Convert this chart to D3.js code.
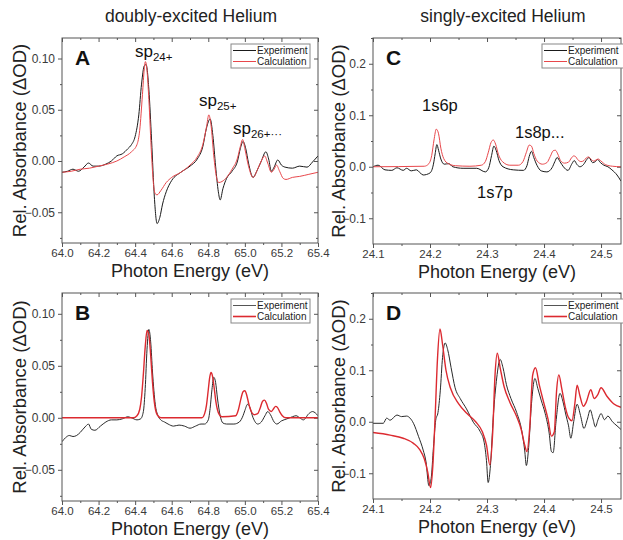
<!DOCTYPE html>
<html><head><meta charset="utf-8">
<script src="https://cdn.jsdelivr.net/npm/d3@7"></script>
<style>
body{margin:0;background:#fff;}
svg{display:block;font-family:"Liberation Sans",Arial,sans-serif;}
</style></head>
<body><svg id="chart" width="623" height="540"></svg>
<script>
// ---------- DATA ----------
const energyTicksHigh = [64.0,64.2,64.4,64.6,64.8,65.0,65.2,65.4];
const energyTicksLow = [24.1,24.2,24.3,24.4,24.5];
const odTicksSmall = [-0.05,0.00,0.05,0.10];
const odTicksLarge = [-0.1,0.0,0.1,0.2];
const seriesNames = ["Experiment","Calculation"];
const columnTitles = ["doubly-excited Helium","singly-excited Helium"];

// Panel A
const aExpX = [64.00,64.03,64.06,64.09,64.12,64.145,64.17,64.20,64.24,64.27,64.30,64.33,64.36,64.38,64.40,64.42,64.435,64.45,64.46,64.475,64.49,64.505,64.52,64.535,64.55,64.57,64.60,64.65,64.70,64.74,64.77,64.79,64.81,64.825,64.84,64.855,64.865,64.88,64.90,64.93,64.96,64.975,64.99,65.005,65.02,65.045,65.065,65.09,65.115,65.13,65.145,65.16,65.18,65.20,65.22,65.26,65.30,65.34,65.37,65.40];
const aExpY = [-0.011,-0.010,-0.008,-0.010,-0.006,-0.002,-0.005,-0.005,-0.003,0.000,0.005,0.007,0.012,0.016,0.024,0.045,0.075,0.093,0.094,0.070,0.020,-0.035,-0.061,-0.055,-0.042,-0.030,-0.019,-0.011,-0.005,0.002,0.014,0.032,0.041,0.025,-0.005,-0.030,-0.038,-0.027,-0.017,-0.010,0.000,0.012,0.019,0.012,-0.002,-0.016,-0.010,0.000,0.009,0.002,-0.010,-0.006,0.001,-0.004,-0.006,-0.007,-0.005,-0.006,-0.001,0.005];
const aCalcX = [64.00,64.05,64.10,64.15,64.20,64.25,64.30,64.34,64.38,64.41,64.425,64.44,64.45,64.456,64.465,64.475,64.49,64.50,64.51,64.52,64.54,64.57,64.60,64.65,64.70,64.74,64.77,64.79,64.803,64.815,64.83,64.845,64.857,64.875,64.90,64.93,64.96,64.975,64.988,65.00,65.02,65.045,65.07,65.09,65.108,65.125,65.145,65.16,65.173,65.19,65.21,65.225,65.26,65.30,65.35,65.40];
const aCalcY = [-0.011,-0.010,-0.008,-0.007,-0.005,-0.003,0.000,0.004,0.009,0.016,0.030,0.065,0.090,0.097,0.088,0.060,0.005,-0.022,-0.032,-0.033,-0.029,-0.021,-0.016,-0.011,-0.004,0.004,0.016,0.033,0.045,0.035,0.005,-0.016,-0.021,-0.020,-0.016,-0.008,0.003,0.014,0.021,0.012,-0.005,-0.016,-0.008,0.000,0.005,-0.002,-0.011,-0.008,-0.004,-0.010,-0.017,-0.018,-0.016,-0.015,-0.013,-0.011];

// Panel B
const bExpX = [64.00,64.02,64.04,64.06,64.08,64.10,64.13,64.145,64.16,64.18,64.21,64.24,64.27,64.30,64.33,64.36,64.38,64.41,64.43,64.445,64.455,64.465,64.475,64.485,64.495,64.51,64.525,64.54,64.56,64.58,64.61,64.64,64.67,64.70,64.73,64.76,64.78,64.80,64.81,64.82,64.83,64.84,64.85,64.865,64.88,64.90,64.94,64.97,64.99,65.00,65.015,65.025,65.045,65.07,65.09,65.11,65.125,65.14,65.16,65.175,65.20,65.23,65.26,65.28,65.30,65.32,65.35,65.37,65.40];
const bExpY = [-0.023,-0.019,-0.017,-0.018,-0.017,-0.014,-0.008,-0.006,-0.011,-0.012,-0.008,-0.004,-0.002,-0.002,-0.001,0.001,0.000,-0.002,-0.001,0.006,0.028,0.066,0.085,0.073,0.044,0.013,0.002,-0.002,-0.004,-0.006,-0.008,-0.007,-0.008,-0.010,-0.008,-0.006,-0.006,-0.002,0.009,0.027,0.039,0.034,0.019,0.002,-0.005,-0.006,-0.006,-0.004,0.002,0.007,0.013,0.011,0.000,-0.006,-0.004,0.002,0.006,0.003,-0.004,-0.006,-0.003,-0.001,0.001,0.002,0.000,-0.002,0.004,0.006,0.002];
const bCalcX = [64.00,64.39,64.41,64.425,64.435,64.445,64.455,64.465,64.475,64.485,64.495,64.505,64.52,64.54,64.765,64.78,64.79,64.80,64.808,64.815,64.823,64.832,64.842,64.855,64.875,64.95,64.965,64.978,64.99,65.00,65.01,65.022,65.035,65.05,65.07,65.085,65.097,65.108,65.118,65.13,65.145,65.158,65.168,65.178,65.19,65.205,65.225,65.40];
const bCalcY = [0,0,0.002,0.008,0.020,0.042,0.068,0.084,0.080,0.060,0.034,0.015,0.003,0,0,0.004,0.012,0.027,0.039,0.0435,0.040,0.029,0.015,0.005,0.001,0.002,0.008,0.018,0.025,0.026,0.022,0.013,0.006,0.003,0.004,0.010,0.016,0.017,0.014,0.008,0.006,0.009,0.011,0.010,0.006,0.002,0,0];

// Panel C
const cExpX = [24.100,24.109,24.121,24.133,24.142,24.153,24.159,24.167,24.176,24.188,24.200,24.206,24.209,24.212,24.215,24.219,24.225,24.233,24.240,24.258,24.282,24.297,24.303,24.308,24.312,24.316,24.321,24.328,24.346,24.364,24.370,24.374,24.378,24.382,24.388,24.395,24.405,24.414,24.419,24.423,24.428,24.434,24.442,24.449,24.453,24.458,24.463,24.469,24.475,24.479,24.485,24.490,24.494,24.499,24.505,24.512,24.519,24.528,24.535];
const cExpY = [0.000,0.003,-0.006,-0.007,-0.002,-0.007,-0.003,-0.008,-0.006,-0.016,-0.012,0.005,0.025,0.043,0.032,0.015,0.005,0.006,0.000,-0.003,-0.003,-0.010,-0.002,0.022,0.040,0.032,0.012,0.000,-0.006,-0.007,0.002,0.020,0.030,0.018,0.002,-0.008,-0.010,-0.002,0.010,0.018,0.010,0.000,-0.007,0.006,0.012,0.004,0.000,0.004,0.014,0.018,0.008,0.010,0.014,0.008,0.003,0.000,-0.006,-0.016,-0.028];
const cCalcX = [24.100,24.190,24.198,24.203,24.207,24.211,24.215,24.219,24.224,24.232,24.245,24.270,24.290,24.297,24.302,24.307,24.311,24.315,24.320,24.327,24.340,24.355,24.363,24.369,24.374,24.378,24.382,24.388,24.397,24.405,24.411,24.416,24.420,24.424,24.429,24.436,24.443,24.448,24.452,24.455,24.459,24.465,24.470,24.474,24.478,24.482,24.487,24.491,24.495,24.500,24.508,24.520,24.535];
const cCalcY = [0,0.001,0.006,0.022,0.052,0.073,0.064,0.036,0.016,0.006,0.002,0.001,0.003,0.010,0.027,0.047,0.052,0.044,0.024,0.010,0.003,0.003,0.010,0.028,0.042,0.040,0.026,0.011,0.005,0.008,0.020,0.031,0.032,0.025,0.012,0.007,0.009,0.017,0.021,0.020,0.014,0.010,0.012,0.017,0.019,0.015,0.011,0.013,0.015,0.011,0.004,0.001,0];

// Panel D
const dExpX = [24.100,24.118,24.124,24.130,24.142,24.150,24.159,24.165,24.171,24.180,24.188,24.193,24.198,24.202,24.206,24.210,24.214,24.218,24.222,24.2265,24.231,24.237,24.244,24.253,24.264,24.276,24.288,24.295,24.299,24.302,24.306,24.311,24.317,24.323,24.328,24.334,24.342,24.352,24.361,24.366,24.369,24.373,24.378,24.384,24.389,24.395,24.402,24.409,24.413,24.416,24.421,24.428,24.433,24.438,24.443,24.447,24.452,24.458,24.464,24.470,24.476,24.481,24.486,24.490,24.495,24.500,24.506,24.512,24.520,24.528,24.535];
const dExpY = [-0.003,-0.003,0.007,0.003,0.013,0.010,0.011,0.007,-0.003,-0.029,-0.055,-0.078,-0.124,-0.110,-0.050,0.003,0.018,0.060,0.125,0.153,0.140,0.105,0.066,0.045,0.025,-0.001,-0.019,-0.040,-0.075,-0.118,-0.085,0.010,0.085,0.121,0.105,0.072,0.045,0.018,-0.018,-0.055,-0.085,-0.050,0.035,0.084,0.065,0.042,0.016,-0.022,-0.058,-0.060,0.000,0.055,0.040,0.015,-0.008,-0.032,0.000,0.034,0.012,-0.013,0.005,0.023,0.005,-0.010,0.005,0.016,0.004,0.011,0.000,-0.008,-0.015];
const dCalcX = [24.100,24.130,24.153,24.171,24.182,24.190,24.196,24.201,24.205,24.209,24.213,24.2175,24.222,24.228,24.236,24.25,24.265,24.280,24.292,24.299,24.305,24.310,24.314,24.318,24.323,24.330,24.340,24.352,24.360,24.366,24.370,24.375,24.380,24.385,24.392,24.400,24.407,24.413,24.418,24.422,24.426,24.431,24.437,24.443,24.449,24.454,24.458,24.463,24.469,24.474,24.482,24.488,24.494,24.500,24.510,24.522,24.535];
const dCalcY = [-0.021,-0.026,-0.032,-0.042,-0.054,-0.072,-0.098,-0.128,-0.085,0.010,0.120,0.180,0.150,0.100,0.065,0.035,0.016,0.000,-0.020,-0.045,-0.084,-0.020,0.090,0.133,0.105,0.068,0.038,0.010,-0.015,-0.045,-0.058,-0.010,0.090,0.105,0.070,0.035,0.005,-0.028,-0.020,0.060,0.091,0.065,0.030,0.008,0.002,0.035,0.071,0.050,0.030,0.038,0.062,0.045,0.052,0.066,0.050,0.035,0.028];

// ---------- LAYOUT ----------
const svg = d3.select("#chart");
const FONT = '"Liberation Sans",Arial,sans-serif';

const panels = [
  {letter:"A", box:[62,318,38,243], xDom:[64,65.4], yDom:[-0.08,0.12], xt:energyTicksHigh, yt:odTicksSmall, xf:".1f", yf:".2f",
   exp:[aExpX,aExpY], calc:[aCalcX,aCalcY], calcColor:"#e8474b", calcW:1, expColor:"#1a1a1a", expW:1, legBox:[231,310,44,68], thickLeg:false},
  {letter:"B", box:[62,318,293,501], xDom:[64,65.4], yDom:[-0.08,0.12], xt:energyTicksHigh, yt:odTicksSmall, xf:".1f", yf:".2f",
   exp:[bExpX,bExpY], calc:[bCalcX,bCalcY], calcColor:"#dc2a30", calcW:1.4, expColor:"#2a2a2a", expW:1, legBox:[231,310,299,323], thickLeg:true},
  {letter:"C", box:[373,621,38,244], xDom:[24.1,24.535], yDom:[-0.15,0.25], xt:energyTicksLow, yt:odTicksLarge, xf:".1f", yf:".1f",
   exp:[cExpX,cExpY], calc:[cCalcX,cCalcY], calcColor:"#e8474b", calcW:1, expColor:"#1a1a1a", expW:1, legBox:[542,624,44,68], thickLeg:false},
  {letter:"D", box:[373,621,293,499], xDom:[24.1,24.535], yDom:[-0.15,0.25], xt:energyTicksLow, yt:odTicksLarge, xf:".1f", yf:".1f",
   exp:[dExpX,dExpY], calc:[dCalcX,dCalcY], calcColor:"#dc2a30", calcW:1.4, expColor:"#2a2a2a", expW:1, legBox:[542,624,299,323], thickLeg:true}
];

svg.append("rect").attr("width",623).attr("height",540).attr("fill","#fff");

// column titles
svg.append("text").attr("x",191).attr("y",22).attr("text-anchor","middle").attr("font-size",17.5).attr("fill","#222").text(columnTitles[0]);
svg.append("text").attr("x",503).attr("y",22).attr("text-anchor","middle").attr("font-size",17.5).attr("fill","#222").text(columnTitles[1]);

panels.forEach((p,i)=>{
  const [l,r,t,b] = p.box;
  const x = d3.scaleLinear().domain(p.xDom).range([l,r]);
  const y = d3.scaleLinear().domain(p.yDom).range([b,t]);
  const g = svg.append("g");
  const clipId = "clip"+p.letter;
  svg.append("clipPath").attr("id",clipId).append("rect").attr("x",l).attr("y",t).attr("width",r-l).attr("height",b-t);

  const xStep = p.xt[1]-p.xt[0], yStep = p.yt[1]-p.yt[0];
  const xMinor = d3.range(p.xDom[0]+xStep/2, p.xDom[1]+1e-9, xStep/2).filter(v=>!p.xt.some(m=>Math.abs(m-v)<1e-6));
  const yMinor = d3.range(p.yt[0]-yStep, p.yDom[1]+1e-9, yStep/2).filter(v=>v>=p.yDom[0]&&!p.yt.some(m=>Math.abs(m-v)<1e-6));

  const styleAxis = sel=>{ sel.select(".domain").remove(); sel.selectAll("line").attr("stroke","#555"); sel.selectAll("text").attr("font-family",FONT).attr("fill","#3a3a3a"); };

  g.append("g").attr("transform",`translate(0,${b})`).call(d3.axisBottom(x).tickValues(p.xt).tickFormat(d3.format(p.xf)).tickSize(4).tickPadding(2))
    .call(styleAxis).call(s=>s.selectAll("text").attr("font-size",11.5));
  g.append("g").attr("transform",`translate(0,${b})`).call(d3.axisBottom(x).tickValues(xMinor).tickFormat("").tickSize(2)).call(styleAxis);
  g.append("g").attr("transform",`translate(0,${t})`).call(d3.axisBottom(x).tickValues(p.xt).tickFormat("").tickSize(4)).call(styleAxis);
  g.append("g").attr("transform",`translate(0,${t})`).call(d3.axisBottom(x).tickValues(xMinor).tickFormat("").tickSize(2)).call(styleAxis);
  g.append("g").attr("transform",`translate(${l},0)`).call(d3.axisLeft(y).tickValues(p.yt).tickFormat(d3.format(p.yf)).tickSize(4).tickPadding(3))
    .call(styleAxis).call(s=>s.selectAll("text").attr("font-size",12));
  g.append("g").attr("transform",`translate(${l},0)`).call(d3.axisLeft(y).tickValues(yMinor).tickFormat("").tickSize(2)).call(styleAxis);
  g.append("g").attr("transform",`translate(${r},0)`).call(d3.axisLeft(y).tickValues(p.yt).tickFormat("").tickSize(4)).call(styleAxis);
  g.append("g").attr("transform",`translate(${r},0)`).call(d3.axisLeft(y).tickValues(yMinor).tickFormat("").tickSize(2)).call(styleAxis);

  const line = d3.line().x(d=>x(d[0])).y(d=>y(d[1])).curve(d3.curveMonotoneX);
  const zipS = s => s[0].map((v,k)=>[v,s[1][k]]);
  const cg = g.append("g").attr("clip-path",`url(#${clipId})`);
  cg.append("path").datum(zipS(p.exp)).attr("d",line).attr("fill","none").attr("stroke",p.expColor).attr("stroke-width",p.expW).attr("stroke-linejoin","round");
  cg.append("path").datum(zipS(p.calc)).attr("d",line).attr("fill","none").attr("stroke",p.calcColor).attr("stroke-width",p.calcW).attr("stroke-linejoin","round");

  g.append("rect").attr("x",l).attr("y",t).attr("width",r-l).attr("height",b-t).attr("fill","none").attr("stroke","#555").attr("stroke-width",1);

  g.append("text").attr("x",l+13).attr("y",t+27).attr("font-size",21).attr("font-weight","bold").attr("fill","#111").text(p.letter);

  g.append("text").attr("x",(l+r)/2).attr("y",b+34).attr("text-anchor","middle").attr("font-size",18).attr("fill","#222").text("Photon Energy (eV)");
  const ytx = i%2===0 ? 0 : 0;
  const ycx = l<200 ? 20 : 339;
  g.append("text").attr("transform",`translate(${ycx},${(t+b)/2}) rotate(-90)`).attr("text-anchor","middle").attr("dy","0.35em")
    .attr("font-size",18.5).attr("fill","#222").text("Rel. Absorbance (\u0394OD)");

  const [lx0,lx1,ly0,ly1] = p.legBox;
  g.append("rect").attr("x",lx0).attr("y",ly0).attr("width",lx1-lx0).attr("height",ly1-ly0).attr("fill","#fff").attr("stroke","#888").attr("stroke-width",1);
  const rows = [{n:seriesNames[0],c:p.expColor,w:p.thickLeg?0.8:1},{n:seriesNames[1],c:p.calcColor,w:p.thickLeg?1.6:1}];
  rows.forEach((rw,k)=>{
    const yy = ly0 + 6.5 + k*11;
    g.append("line").attr("x1",lx0+2).attr("x2",lx0+25).attr("y1",yy).attr("y2",yy).attr("stroke",rw.c).attr("stroke-width",rw.w);
    g.append("text").attr("x",lx0+26).attr("y",yy+3.5).attr("font-size",10).attr("fill","#222").text(rw.n);
  });
});

function subLabel(xp,yp,main,sub){
  const tx = svg.append("text").attr("x",xp).attr("y",yp).attr("font-size",17).attr("fill","#111");
  tx.append("tspan").text(main);
  tx.append("tspan").attr("dy",4).attr("font-size",11.5).text(sub);
}
subLabel(135,57,"sp","24+");
subLabel(199,106,"sp","25+");
subLabel(233,134,"sp","26+\u00b7\u00b7\u00b7");
[["1s6p",422,111],["1s8p...",515,138],["1s7p",477,198]].forEach(a=>{
  svg.append("text").attr("x",a[1]).attr("y",a[2]).attr("font-size",16.5).attr("fill","#111").text(a[0]);
});
</script>
</body></html>
